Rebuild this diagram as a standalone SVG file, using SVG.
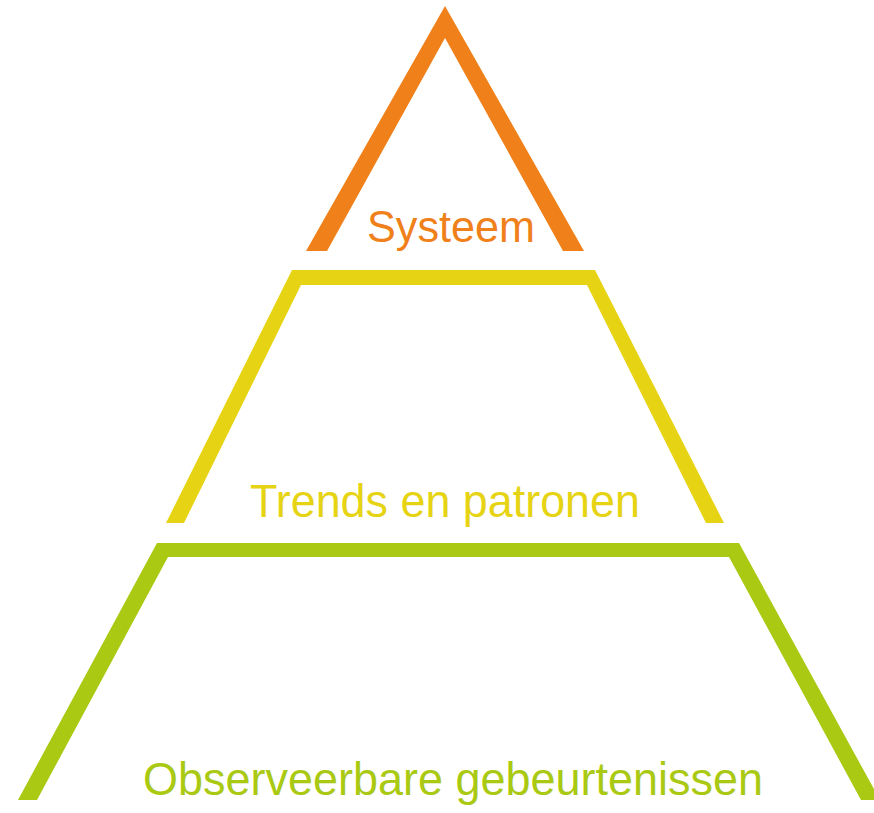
<svg xmlns="http://www.w3.org/2000/svg" width="874" height="813" viewBox="0 0 874 813">
<style>
.lbl{font-family:"Liberation Sans",Arial,sans-serif;text-anchor:middle}
.o{fill:#F0801A}
.y{fill:#E6D414}
.g{fill:#A9C913}
</style>
<rect width="874" height="813" fill="#ffffff"/>
<g id="systeem">
<polygon class="o" points="306,251 445,6 584,251 563,251 445,38 327,251"/>
<text class="lbl o" x="451" y="242" font-size="44" textLength="168" lengthAdjust="spacingAndGlyphs">Systeem</text>
</g>
<g id="trends">
<polygon class="y" points="166,523 292,270 595,270 724,523 706,523 587,285 301,285 184,523"/>
<text class="lbl y" x="445" y="517" font-size="46" textLength="390" lengthAdjust="spacingAndGlyphs">Trends en patronen</text>
</g>
<g id="observeerbaar">
<polygon class="g" points="18,800 157,543 739,543 880,800 861,800 729,557 168,557 37,800"/>
<text class="lbl g" x="453" y="795" font-size="46" textLength="620" lengthAdjust="spacingAndGlyphs">Observeerbare gebeurtenissen</text>
</g>
</svg>
